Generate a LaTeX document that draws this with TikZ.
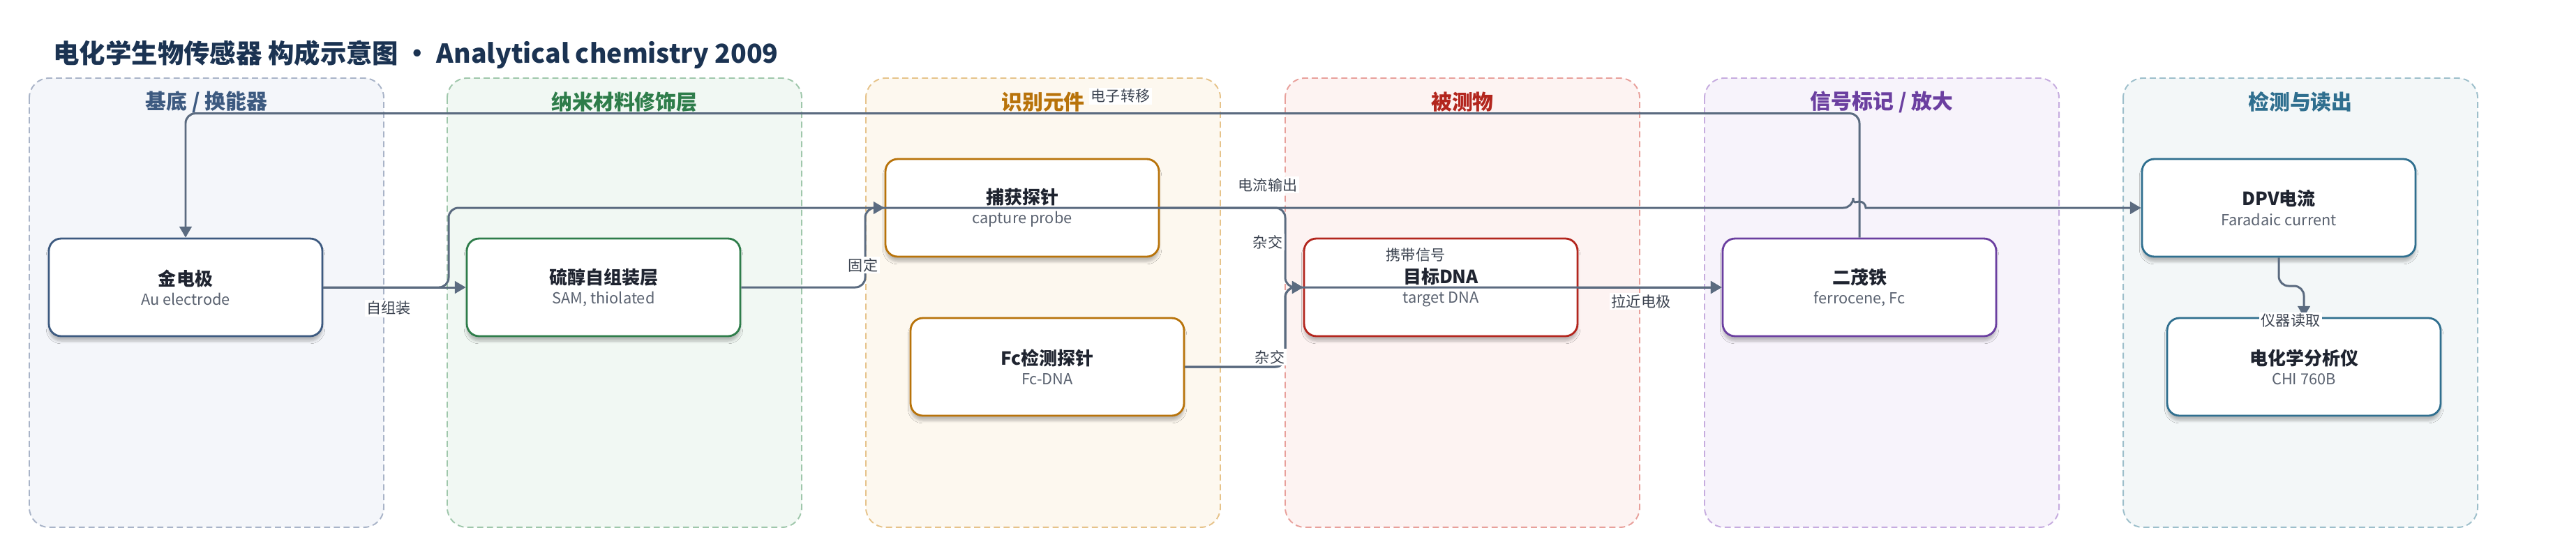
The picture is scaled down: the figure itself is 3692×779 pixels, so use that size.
\documentclass[tikz,border=0pt]{standalone}
\usepackage{fontspec}
\setmainfont{Noto Sans CJK SC}
\usetikzlibrary{arrows.meta,shadows.blur}

\definecolor{ink}{HTML}{1B3352}
\definecolor{ttl}{HTML}{1F2430}
\definecolor{subc}{HTML}{5A6270}
\definecolor{edgec}{HTML}{5B6B80}
\definecolor{lblc}{HTML}{3B4350}
% lane colours: text / fill / dashed border
\definecolor{lnA}{HTML}{3D5A80}\definecolor{bgA}{HTML}{F4F6FA}\definecolor{bdA}{HTML}{A9B4C8}
\definecolor{lnB}{HTML}{2E7D4A}\definecolor{bgB}{HTML}{F1F8F3}\definecolor{bdB}{HTML}{9FC7AB}
\definecolor{lnC}{HTML}{B8730A}\definecolor{bgC}{HTML}{FDF8EF}\definecolor{bdC}{HTML}{E6C38A}
\definecolor{lnD}{HTML}{B3261E}\definecolor{bgD}{HTML}{FDF3F2}\definecolor{bdD}{HTML}{E8A09B}
\definecolor{lnE}{HTML}{6B3FA0}\definecolor{bgE}{HTML}{F7F3FB}\definecolor{bdE}{HTML}{C6ACDF}
\definecolor{lnF}{HTML}{2F6F8F}\definecolor{bgF}{HTML}{F3F7F8}\definecolor{bdF}{HTML}{9DBFCB}

\newcommand\boxtext[2]{{\fontsize{14.8}{18}\selectfont\bfseries\color{ttl}#1}\\[4pt]{\fontsize{12.4}{14}\selectfont\color{subc}#2}}

\tikzset{
    lane/.style={rounded corners=16pt, line width=1.1pt, dash pattern=on 5pt off 3pt},
    lanetitle/.style={font=\fontsize{17}{20}\selectfont\bfseries, inner sep=2pt},
    box/.style={draw=#1, fill=white, line width=1.6pt, rounded corners=10pt,
        minimum width=7.84cm, minimum height=2.8cm, align=center,
        blur shadow={shadow xshift=0pt, shadow yshift=-4pt, shadow blur steps=6, shadow opacity=25}},
    flow/.style={draw=edgec, line width=1.7pt, rounded corners=8pt, -{Triangle[length=9pt,width=10pt]}},
    lbl/.style={fill=white, text=lblc, font=\fontsize{12}{14}\selectfont, inner sep=1.5pt},
}

\begin{document}
\begin{tikzpicture}[x=0.02cm,y=-0.02cm]
\useasboundingbox (0,0) rectangle (3692,779);

\node[anchor=west, inner sep=0, text=ink, font=\fontsize{21.3}{25}\selectfont\bfseries] (head) at (76,78)
    {电化学生物传感器 构成示意图 · Analytical chemistry 2009};

\foreach \k/\x/\t in {A/42/{基底 / 换能器}, B/641/纳米材料修饰层, C/1241/识别元件, D/1842/被测物, E/2443/{信号标记 / 放大}, F/3043/检测与读出}{
    \draw[lane, draw=bd\k, fill=bg\k] (\x,112) rectangle ++(508,644);
    \node[lanetitle, text=ln\k] (lt\k) at (\x+254,146) {\t};
}

\node[box=lnA] (au)  at (266,412)  {\boxtext{金电极}{Au electrode}};
\node[box=lnB] (sam) at (865,412)  {\boxtext{硫醇自组装层}{SAM, thiolated}};
\node[box=lnC] (cap) at (1465,298) {\boxtext{捕获探针}{capture probe}};
\node[box=lnC] (fc)  at (1501,526) {\boxtext{Fc检测探针}{Fc-DNA}};
\node[box=lnD] (tgt) at (2065,412) {\boxtext{目标DNA}{target DNA}};
\node[box=lnE] (fer) at (2665,412) {\boxtext{二茂铁}{ferrocene, Fc}};
\node[box=lnF] (dpv) at (3266,298) {\boxtext{DPV电流}{Faradaic current}};
\node[box=lnF] (ana) at (3302,526) {\boxtext{电化学分析仪}{CHI 760B}};

\draw[flow] (au) -- (sam);
\draw[flow] (au.east) -- (643,412) -- (643,298) -- (2656,298) [sharp corners] arc[start angle=180,end angle=360,radius=9] -- (dpv.west);
\draw[flow] (sam.east) -- (1240,412) -- (1240,298) -- (cap.west);
\draw[flow] (cap.east) -- (1842,298) -- (1842,412) -- (tgt.west);
\draw[flow] (fc.east) -- (1842,526) -- (1842,412) -- (tgt.west);
\draw[flow] (fc.east) -- (1842,526) -- (1842,412) -- (fer.west);
\draw[flow] (tgt.east) -- (fer.west);
\draw[flow] (fer.north) -- ++(0,-178) -| (au.north);
\draw[flow] (dpv.south) -- (3266,410) -- (3302,410) -- (ana.north);

\node[lbl] (l1) at (557,442)  {自组装};
\node[lbl] (l2) at (1817,265) {电流输出};
\node[lbl] (l3) at (1237,380) {固定};
\node[lbl] (l4) at (1817,347) {杂交};
\node[lbl] (l5) at (1820,512) {杂交};
\node[lbl] (l6) at (2029,365) {携带信号};
\node[lbl] (l7) at (2352,432) {拉近电极};
\node[lbl] (l8) at (1606,138) {电子转移};
\node[lbl] (l9) at (3283,460) {仪器读取};
\end{tikzpicture}
\end{document}
